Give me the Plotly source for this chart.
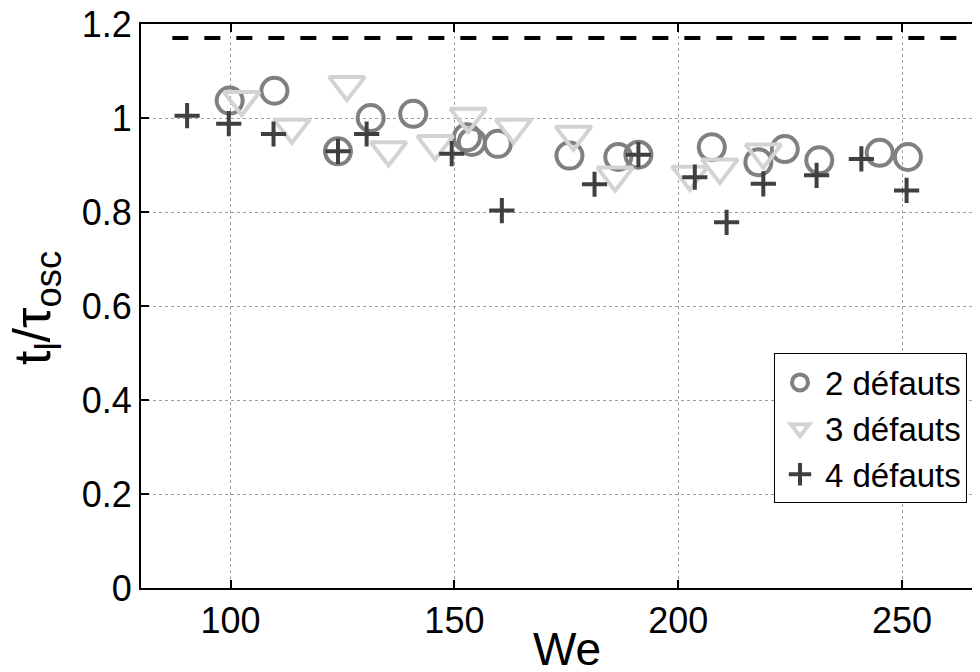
import plotly.graph_objects as go

# ---- data ----
circ_x = [99.8, 109.8, 124.0, 131.3, 140.8, 152.8, 153.9, 159.7, 175.7, 186.6, 191.1, 207.5, 217.9, 223.8, 231.5, 245.0, 251.3]
circ_y = [1.037, 1.058, 0.929, 1.000, 1.009, 0.959, 0.949, 0.945, 0.920, 0.917, 0.922, 0.938, 0.906, 0.934, 0.910, 0.926, 0.917]

tri_x = [102.5, 113.7, 126.0, 135.3, 145.7, 153.1, 163.2, 176.6, 185.9, 202.6, 209.3, 219.0]
tri_y = [1.039, 0.980, 1.071, 0.932, 0.945, 1.003, 0.980, 0.965, 0.878, 0.880, 0.895, 0.927]

plus_x = [90.3, 99.6, 109.6, 124.0, 130.4, 149.4, 160.6, 181.3, 191.1, 203.7, 210.8, 219.0, 230.9, 240.9, 251.0]
plus_y = [1.005, 0.988, 0.966, 0.929, 0.966, 0.924, 0.803, 0.859, 0.922, 0.874, 0.778, 0.860, 0.878, 0.913, 0.846]

ref_x = [87, 270]
ref_y = [1.17, 1.17]

x_ticks = [100, 150, 200, 250]
y_ticks = [0, 0.2, 0.4, 0.6, 0.8, 1.0, 1.2]
y_ticktext = ["0", "0.2", "0.4", "0.6", "0.8", "1", "1.2"]

FONT = "Liberation Sans, Arial, Helvetica, sans-serif"

fig = go.Figure()

fig.add_trace(go.Scatter(
    x=ref_x, y=ref_y, mode="lines", showlegend=False,
    line=dict(color="black", width=4, dash="16px,16px"), hoverinfo="skip"))

fig.add_trace(go.Scatter(
    x=circ_x, y=circ_y, mode="markers", name="2 défauts",
    marker=dict(symbol="circle-open", size=26, color="#808080",
                line=dict(width=4, color="#808080"))))

fig.add_trace(go.Scatter(
    x=tri_x, y=tri_y, mode="markers", name="3 défauts",
    marker=dict(symbol="triangle-down-open", size=31, color="#d3d3d3",
                line=dict(width=4, color="#d3d3d3"))))

fig.add_trace(go.Scatter(
    x=plus_x, y=plus_y, mode="markers", name="4 défauts",
    marker=dict(symbol="cross-thin-open", size=18, color="#404040",
                line=dict(width=4, color="#404040"))))

# the page body has an 8px default margin: the figure is sized/shifted to compensate
fig.update_layout(
    width=972, height=664,
    margin=dict(l=133, r=0, t=16, b=84, autoexpand=False),
    paper_bgcolor="white", plot_bgcolor="white",
    font=dict(family=FONT, color="black", size=36),
    legend=dict(
        x=0.9845, y=0.4158, xanchor="right", yanchor="top",
        bgcolor="white", bordercolor="black", borderwidth=1,
        font=dict(size=33, family=FONT, color="black"),
        itemsizing="trace", itemwidth=40, tracegroupgap=0,
    ),
    xaxis=dict(
        range=[80, 267.4], tickvals=x_ticks, ticks="inside", ticklen=8,
        tickwidth=1.5, tickcolor="black",
        showline=True, linecolor="black", linewidth=2, mirror="ticks",
        showgrid=True, gridcolor="#a0a0a0", griddash="dot", gridwidth=1,
        zeroline=False, automargin=False, ticklabeloverflow="allow",
        tickfont=dict(size=36, family=FONT),
    ),
    yaxis=dict(
        range=[0, 1.2], tickvals=y_ticks, ticktext=y_ticktext,
        ticks="inside", ticklen=8, tickwidth=1.5, tickcolor="black",
        showline=True, linecolor="black", linewidth=2,
        showgrid=True, gridcolor="#a0a0a0", griddash="dot", gridwidth=1,
        zeroline=False, automargin=False, ticklabeloverflow="allow",
        tickfont=dict(size=36, family=FONT),
    ),
    annotations=[
        dict(text="We", xref="paper", yref="paper", x=0.508, y=-0.108,
             xanchor="center", yanchor="middle", showarrow=False,
             font=dict(size=46, family=FONT, color="black")),
        dict(text="t<sub>l</sub>/τ<sub>osc</sub>", xref="paper", yref="paper",
             x=-0.126, y=0.497, xanchor="center", yanchor="middle",
             textangle=-90, showarrow=False,
             font=dict(size=52, family=FONT, color="black")),
    ],
)

fig.write_html("out.html")
